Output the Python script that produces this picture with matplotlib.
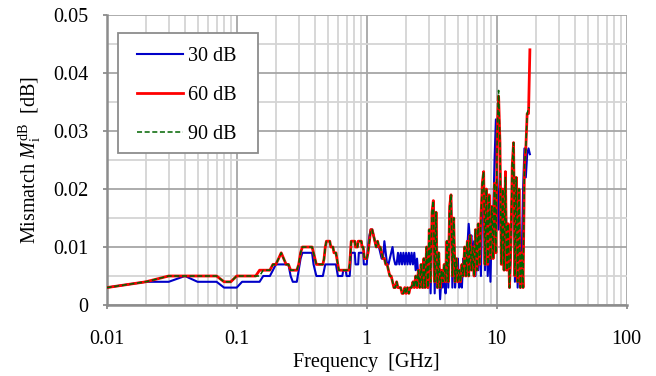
import numpy as np
import matplotlib
matplotlib.use("Agg")
import matplotlib.pyplot as plt
from matplotlib.ticker import FixedLocator, NullFormatter
from matplotlib.patches import Rectangle

plt.rcParams['font.family'] = ['Liberation Serif', 'DejaVu Serif']
plt.rcParams['mathtext.fontset'] = 'custom'
plt.rcParams['mathtext.rm'] = 'Liberation Serif'
plt.rcParams['mathtext.it'] = 'Liberation Serif:italic'

# ---- data (values in mdB) ----
# low band: 0.01 ... 1.00 GHz, 0.01 GHz steps
f_low = np.arange(1, 101) / 100.0
red_low = [3,4,5,5,5,5,5,4,4,5,
           5,5,5,5,6,6,6,6,7,7,
           8,9,8,7,7,6,6,6,6,7,
           9,10,10,10,10,10,10,10,9,8,
           7,7,7,7,7,7,8,10,11,11,
           11,11,10,10,10,9,9,9,8,7,
           6,6,6,6,6,6,6,6,6,6,
           6,6,6,7,9,11,11,11,11,11,
           11,10,10,10,10,11,11,11,11,11,
           11,10,10,10,9,8,8,8,8,8]
green_low = [3,4,5,5,5,5,5,4,4,5,
             5,5,5,5,5,6,6,6,7,7,
             8,9,8,7,7,6,6,6,6,7,
             9,10,10,10,10,10,10,10,9,8,
             7,7,7,7,7,7,8,10,11,11,
             11,11,10,10,10,9,9,9,8,7,
             6,6,6,6,6,6,6,6,6,6,
             6,6,6,7,9,11,11,11,11,11,
             11,10,10,10,10,11,11,11,11,11,
             11,10,10,10,9,8,8,8,8,8]
blue_low = [3,4,4,5,4,4,4,3,3,3,
            4,4,4,4,4,5,5,5,6,7,
            7,7,7,7,7,5,4,4,4,6,
            8,9,9,9,9,9,9,9,7,6,
            5,5,5,5,5,5,6,7,7,7,
            7,7,7,7,7,7,7,7,6,5,
            5,5,5,5,5,6,6,6,6,5,
            5,5,5,5,7,9,9,9,9,9,
            9,7,7,7,7,7,9,9,9,9,
            9,9,9,9,7,7,7,7,7,7]

# high band: 1 ... 18 GHz sweep
f_high = 18.0 ** (np.arange(1, 121) / 120.0)
red_high = [9,11,13,13,12,11,10,11,10,10,
            9,8,8,7,7,6,5,5,4,3,
            3,4,3,3,3,2,2,3,2,3,
            2,3,3,4,3,5,3,6,3,7,
            3,8,3,10,3,13,4,16,18,4,
            16,3,9,3,6,4,7,4,11,4,
            17,19,5,15,4,8,4,6,4,7,
            5,10,5,11,5,12,6,10,5,13,
            6,14,7,15,21,23,7,20,7,19,
            8,17,8,21,9,30,36,28,7,20,
            6,23,6,14,3,10,24,28,5,22,
            4,20,3,9,3,24,27,33,33,44]
green_high = [9,11,13,13,12,11,10,11,10,10,
              9,8,8,7,7,6,5,5,4,3,
              3,4,3,3,3,2,2,3,2,3,
              2,3,3,4,3,5,3,6,3,7,
              3,8,3,10,3,13,4,16,18,4,
              16,3,9,3,6,4,7,4,11,4,
              17,19,5,15,4,8,4,6,4,7,
              5,10,5,11,5,12,6,10,5,13,
              6,14,7,15,21,23,7,20,7,19,
              8,17,8,21,9,30,37,28,7,20,
              6,22,6,14,3,10,24,28,5,22,
              4,20,3,9,3,24,27,33,34,34]
blue_high = [10,12,13,13,12,11,10,10,10,9,
             8,8,11,9,7,7,8,9,10,8,
             7,7,9,7,9,7,9,7,9,7,
             9,7,9,7,9,6,8,5,6,4,
             6,3,5,6,3,9,2,12,17,2,
             14,3,7,1,5,3,6,2,10,3,
             16,18,3,13,3,7,8,3,4,3,
             8,6,9,10,14,11,12,8,11,5,
             12,6,13,5,19,22,6,16,5,11,
             4,14,15,25,32,20,13,24,9,18,
             7,19,10,13,3,9,20,24,4,18,
             3,12,3,8,20,27,22,26,27,26]

series_labels = ["30 dB", "60 dB", "90 dB"]
x_ticks = [0.01, 0.1, 1, 10, 100]
x_ticklabels = ["0.01", "0.1", "1", "10", "100"]
y_ticks = [0, 0.01, 0.02, 0.03, 0.04, 0.05]
y_ticklabels = ["0", "0.01", "0.02", "0.03", "0.04", "0.05"]

freq = np.concatenate([f_low, f_high])
blue = np.array(blue_low + blue_high) / 1000.0
red = np.array(red_low + red_high) / 1000.0
green = np.array(green_low + green_high) / 1000.0

# ---- figure ----
W, H = 656, 376
FS = 14.5
fig = plt.figure(figsize=(W / 100, H / 100), dpi=100)
ax = fig.add_axes([106.7 / W, 1 - 305 / H, 520 / W, 290 / H])

ax.set_xscale('log')
ax.set_xlim(0.01, 100)
ax.set_ylim(0, 0.05)

major_c = '#a6a6a6'
minor_c = '#d4d4d4'
ax.xaxis.set_major_locator(FixedLocator(x_ticks))
ax.xaxis.set_minor_locator(FixedLocator([m * 10.0 ** e for e in range(-2, 2) for m in range(2, 10)]))
ax.xaxis.set_minor_formatter(NullFormatter())
ax.set_xticklabels(x_ticklabels)
ax.yaxis.set_major_locator(FixedLocator(y_ticks))
ax.yaxis.set_minor_locator(FixedLocator([0.005, 0.015, 0.025, 0.035, 0.045]))
ax.set_yticklabels(y_ticklabels)

ax.grid(True, which='major', color=major_c, linewidth=1.3)
ax.grid(True, which='minor', color=minor_c, linewidth=1.3)
ax.set_axisbelow(True)

ax.tick_params(which='major', direction='out', length=3, width=1.3, color='#8c8c8c',
               labelsize=FS)
ax.tick_params(axis='x', which='major', pad=15.0)
ax.tick_params(axis='y', which='major', pad=10.3)
ax.tick_params(which='minor', length=0)

for s in ['top', 'right']:
    ax.spines[s].set_visible(False)
for s in ['left', 'bottom']:
    ax.spines[s].set_color('#8c8c8c')
    ax.spines[s].set_linewidth(1.8)

ax.plot(freq, blue, color='#0000c8', linewidth=1.5, label=series_labels[0], zorder=3)
ax.plot(freq, red, color='#ff0000', linewidth=2.0, label=series_labels[1], zorder=4)
ax.plot(freq, green, color='#006400', linewidth=1.1, dashes=(3.3, 1.7),
        label=series_labels[2], zorder=5)

ax.set_xlabel("Frequency  [GHz]", fontsize=FS, labelpad=3)
ax.set_ylabel(r"Mismatch $M_{\mathrm{i}}^{\mathrm{dB}}$  [dB]", fontsize=FS, labelpad=7)

# legend frame (drawn separately) and legend entries
frame = Rectangle((118 / W, 1 - 152.7 / H), 140 / W, 119.4 / H, transform=fig.transFigure,
                  facecolor='white', edgecolor='#8c8c8c', linewidth=1.3, zorder=10)
fig.patches.append(frame)
leg = fig.legend(loc='upper left', bbox_to_anchor=(137 / W, 1 - 47 / H),
                 bbox_transform=fig.transFigure, borderaxespad=0,
                 fontsize=FS, frameon=False,
                 handlelength=2.3, handletextpad=0.25, labelspacing=0.98,
                 borderpad=0.0)
leg.set_zorder(11)

fig.savefig("out.png", dpi=100)
